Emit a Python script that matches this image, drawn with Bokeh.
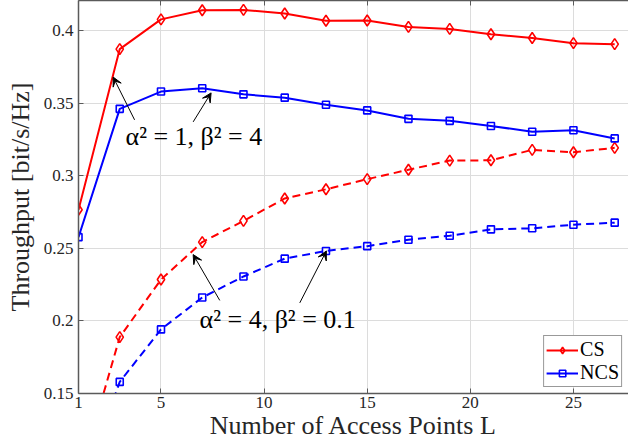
from bokeh.plotting import figure
from bokeh.models import Range1d, FixedTicker, LinearAxis, Legend, LegendItem, Label, Arrow, VeeHead
from bokeh.embed import file_html
from bokeh.resources import INLINE

# ---- data ----
L = [1, 3, 5, 7, 9, 11, 13, 15, 17, 19, 21, 23, 25, 27]
cs_a1 = [0.2767, 0.3875, 0.4080, 0.4143, 0.4145, 0.4120, 0.4070, 0.4072,
         0.4028, 0.4014, 0.3977, 0.3951, 0.3916, 0.3909]
ncs_a1 = [0.2578, 0.3463, 0.3582, 0.3605, 0.3563, 0.3540, 0.3491, 0.3452,
          0.3394, 0.3380, 0.3345, 0.3305, 0.3315, 0.3259]
cs_a4 = [0.0900, 0.1889, 0.2286, 0.2544, 0.2690, 0.2845, 0.2908, 0.2978,
         0.3043, 0.3106, 0.3108, 0.3180, 0.3164, 0.3194]
ncs_a4 = [0.0780, 0.1580, 0.1942, 0.2162, 0.2307, 0.2430, 0.2483, 0.2516,
          0.2560, 0.2588, 0.2632, 0.2639, 0.2664, 0.2678]
series_names = ["CS", "NCS"]
x_ticks = [1, 5, 10, 15, 20, 25]
x_tick_labels = ["1", "5", "10", "15", "20", "25"]
y_ticks = [0.15, 0.2, 0.25, 0.3, 0.35, 0.4]
y_tick_labels = ["0.15", "0.2", "0.25", "0.3", "0.35", "0.4"]
x_label = "Number of Access Points L"
y_label = "Throughput [bit/s/Hz]"
ann1 = "α² = 1, β² = 4"
ann2 = "α² = 4, β² = 0.1"

FONT = "Liberation Serif"
RED = "#ff0000"
BLUE = "#0000ff"
AX = "#5a5a5a"
TXT = "#262626"

p = figure(width=628, height=442, output_backend="svg", toolbar_location=None,
           x_range=Range1d(1, 27.67), y_range=Range1d(0.15, 0.421),
           min_border_left=78, min_border_right=0, min_border_top=0, min_border_bottom=0)
p.outline_line_color = None
p.background_fill_color = "white"
p.border_fill_color = "white"

for ax in (p.xaxis[0], p.yaxis[0]):
    ax.axis_line_color = AX
    ax.axis_line_width = 1.5
    ax.major_tick_line_color = AX
    ax.major_tick_in = 5
    ax.major_tick_out = 0
    ax.minor_tick_line_color = None
    ax.major_label_text_font = FONT
    ax.major_label_text_font_size = "17px"
    ax.major_label_text_color = TXT
    ax.axis_label_text_font = FONT
    ax.axis_label_text_font_size = "26px"
    ax.axis_label_text_font_style = "normal"
    ax.axis_label_text_color = TXT

p.xaxis[0].ticker = FixedTicker(ticks=x_ticks)
p.xaxis[0].major_label_overrides = {t: s for t, s in zip(x_ticks, x_tick_labels)}
p.yaxis[0].ticker = FixedTicker(ticks=y_ticks)
p.yaxis[0].major_label_overrides = {t: s for t, s in zip(y_ticks, y_tick_labels)}
p.xaxis[0].axis_label = x_label
p.yaxis[0].axis_label = y_label
p.xaxis[0].axis_label_standoff = 0
p.yaxis[0].axis_label_standoff = 6
p.xaxis[0].major_label_standoff = 3
p.yaxis[0].major_label_standoff = 5

top = LinearAxis(ticker=FixedTicker(ticks=x_ticks), axis_line_color=AX, axis_line_width=1.5,
                 major_tick_line_color=AX, major_tick_in=5, major_tick_out=0,
                 minor_tick_line_color=None, major_label_text_font_size="0px",
                 major_label_standoff=0)
top.major_label_overrides = {t: "" for t in x_ticks}
p.add_layout(top, "above")

p.xgrid.ticker = FixedTicker(ticks=x_ticks)
p.ygrid.ticker = FixedTicker(ticks=y_ticks)
p.grid.grid_line_color = "#dcdcdc"
p.grid.grid_line_width = 1

# dashed series (alpha^2=4, beta^2=0.1)
p.line(L, cs_a4, line_color=RED, line_width=2, line_dash="8 5")
p.scatter(L, cs_a4, marker="diamond", size=11, line_color=RED, line_width=1.6, fill_color=None)
p.line(L, ncs_a4, line_color=BLUE, line_width=2, line_dash="8 5")
p.scatter(L, ncs_a4, marker="square", size=7, line_color=BLUE, line_width=1.6, fill_color=None)

# solid series (alpha^2=1, beta^2=4)
r1 = p.line(L, cs_a1, line_color=RED, line_width=2)
m1 = p.scatter(L, cs_a1, marker="diamond", size=11, line_color=RED, line_width=1.6, fill_color=None)
r2 = p.line(L, ncs_a1, line_color=BLUE, line_width=2)
m2 = p.scatter(L, ncs_a1, marker="square", size=7, line_color=BLUE, line_width=1.6, fill_color=None)

legend = Legend(items=[LegendItem(label=series_names[0], renderers=[r1, m1]),
                       LegendItem(label=series_names[1], renderers=[r2, m2])],
                location="bottom_right")
legend.label_text_font = FONT
legend.label_text_font_size = "20px"
legend.label_text_color = "black"
legend.border_line_color = "#333333"
legend.border_line_width = 1
legend.background_fill_color = "white"
legend.background_fill_alpha = 1
legend.glyph_width = 32
legend.glyph_height = 16
legend.label_height = 16
legend.label_standoff = 2
legend.spacing = 0
legend.padding = 2
legend.margin = 6
p.add_layout(legend)

# annotations
head = dict(size=9, fill_color="black", line_color="black")
p.add_layout(Arrow(end=VeeHead(**head), x_start=3.72, y_start=0.3387, x_end=2.68, y_end=0.3682,
                   line_color="black", line_width=1))
p.add_layout(Arrow(end=VeeHead(**head), x_start=6.56, y_start=0.3373, x_end=7.43, y_end=0.3573,
                   line_color="black", line_width=1))
p.add_layout(Arrow(end=VeeHead(**head), x_start=7.85, y_start=0.2142, x_end=6.56, y_end=0.2458,
                   line_color="black", line_width=1))
p.add_layout(Arrow(end=VeeHead(**head), x_start=11.73, y_start=0.2125, x_end=13.02, y_end=0.2483,
                   line_color="black", line_width=1))
p.add_layout(Label(x=3.28, y=0.3275, text=ann1, text_font=FONT, text_font_size="26px",
                   text_baseline="middle", text_color="black"))
p.add_layout(Label(x=6.87, y=0.2007, text=ann2, text_font=FONT, text_font_size="26px",
                   text_baseline="middle", text_color="black"))

open("out.html", "w").write(file_html(p, INLINE))
